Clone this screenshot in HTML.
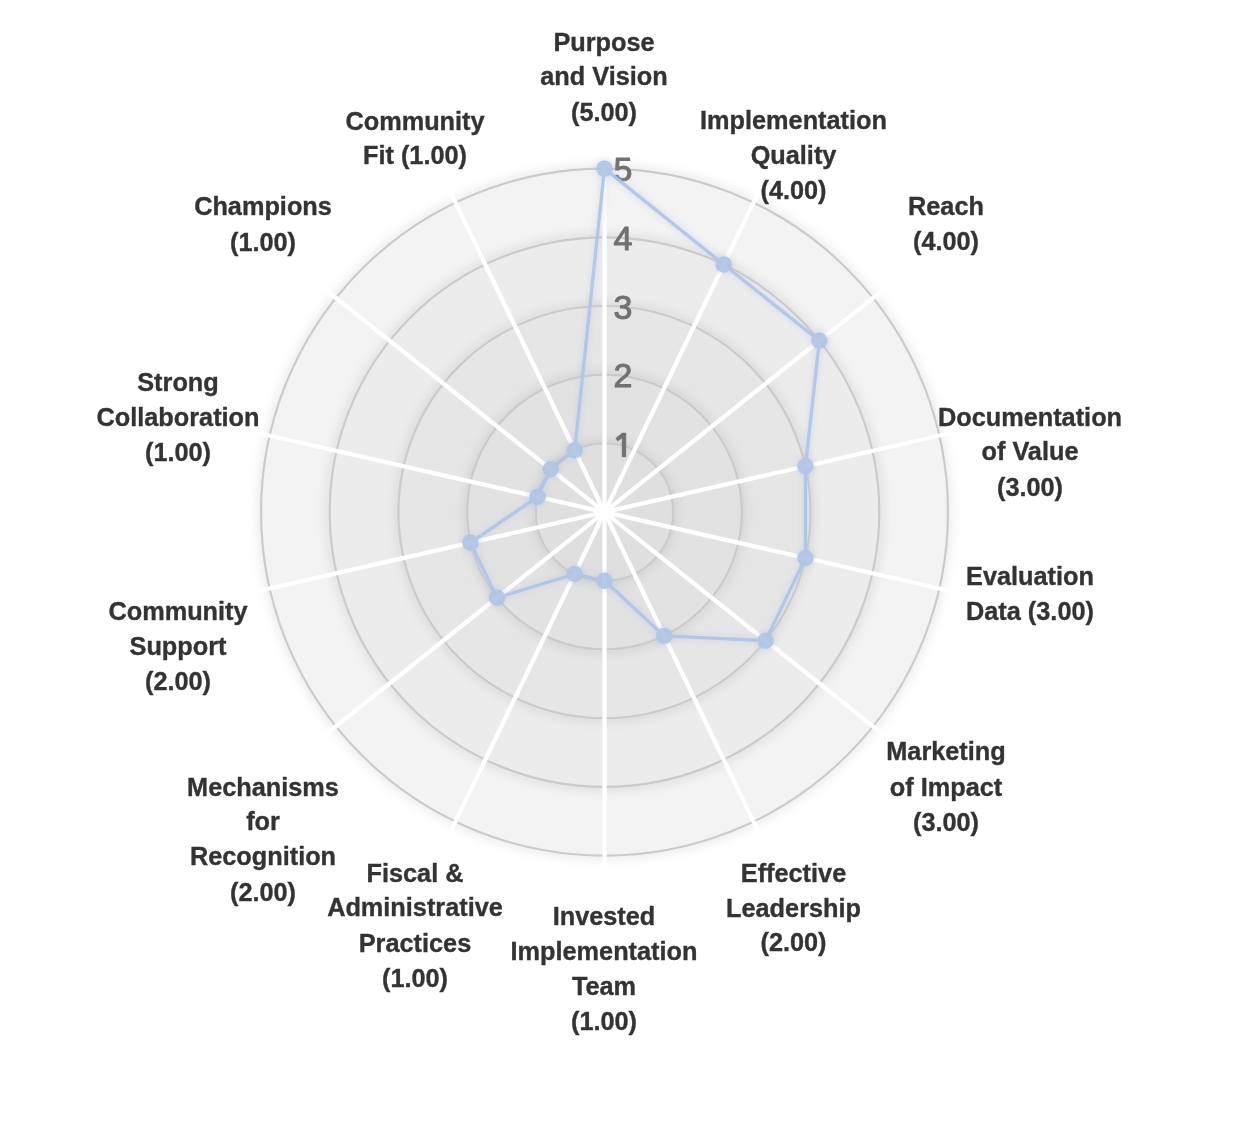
<!DOCTYPE html>
<html><head><meta charset="utf-8"><style>
html,body{margin:0;padding:0;background:#fff;width:1234px;height:1124px;overflow:hidden}
svg{display:block;filter:blur(0.35px)}
.lb{font-family:"Liberation Sans",sans-serif;font-weight:bold;font-size:25.3px;fill:#333;stroke:#333;stroke-width:0.35px;text-anchor:middle}
.tk{font-family:"Liberation Sans",sans-serif;font-size:34px;fill:#717171;stroke:#717171;stroke-width:1px;stroke-linejoin:round;text-anchor:middle}
</style></head><body>
<svg width="1234" height="1124" viewBox="0 0 1234 1124">
<defs>
<filter id="sh" x="-20%" y="-20%" width="140%" height="140%">
<feGaussianBlur in="SourceAlpha" stdDeviation="7"/>
<feComponentTransfer><feFuncA type="linear" slope="0.12"/></feComponentTransfer>
<feMerge><feMergeNode/><feMergeNode in="SourceGraphic"/></feMerge>
</filter>
<filter id="gl" x="-20%" y="-20%" width="140%" height="140%">
<feGaussianBlur in="SourceGraphic" stdDeviation="3.5"/>
<feComponentTransfer><feFuncA type="linear" slope="0.7"/></feComponentTransfer>
<feMerge><feMergeNode/><feMergeNode in="SourceGraphic"/></feMerge>
</filter>
</defs>

<circle cx="604.5" cy="512.1" r="343.50" fill="#f3f3f3" stroke="#cbcbcb" stroke-width="2.2" filter="url(#sh)"/>
<circle cx="604.5" cy="512.1" r="274.80" fill="#ececec" stroke="#cbcbcb" stroke-width="2.2" filter="url(#sh)"/>
<circle cx="604.5" cy="512.1" r="206.10" fill="#e6e6e6" stroke="#cbcbcb" stroke-width="2.2" filter="url(#sh)"/>
<circle cx="604.5" cy="512.1" r="137.40" fill="#e2e2e2" stroke="#cbcbcb" stroke-width="2.2" filter="url(#sh)"/>
<circle cx="604.5" cy="512.1" r="68.70" fill="#dfdfdf" stroke="#cbcbcb" stroke-width="2.2" filter="url(#sh)"/>
<line x1="604.5" y1="512.1" x2="604.50" y2="146.60" stroke="#fff" stroke-width="4.3"/>
<line x1="604.5" y1="512.1" x2="763.08" y2="182.80" stroke="#fff" stroke-width="4.3"/>
<line x1="604.5" y1="512.1" x2="890.26" y2="284.21" stroke="#fff" stroke-width="4.3"/>
<line x1="604.5" y1="512.1" x2="960.84" y2="430.77" stroke="#fff" stroke-width="4.3"/>
<line x1="604.5" y1="512.1" x2="960.84" y2="593.43" stroke="#fff" stroke-width="4.3"/>
<line x1="604.5" y1="512.1" x2="890.26" y2="739.99" stroke="#fff" stroke-width="4.3"/>
<line x1="604.5" y1="512.1" x2="763.08" y2="841.40" stroke="#fff" stroke-width="4.3"/>
<line x1="604.5" y1="512.1" x2="604.50" y2="877.60" stroke="#fff" stroke-width="4.3"/>
<line x1="604.5" y1="512.1" x2="445.92" y2="841.40" stroke="#fff" stroke-width="4.3"/>
<line x1="604.5" y1="512.1" x2="318.74" y2="739.99" stroke="#fff" stroke-width="4.3"/>
<line x1="604.5" y1="512.1" x2="248.16" y2="593.43" stroke="#fff" stroke-width="4.3"/>
<line x1="604.5" y1="512.1" x2="248.16" y2="430.77" stroke="#fff" stroke-width="4.3"/>
<line x1="604.5" y1="512.1" x2="318.74" y2="284.21" stroke="#fff" stroke-width="4.3"/>
<line x1="604.5" y1="512.1" x2="445.92" y2="182.80" stroke="#fff" stroke-width="4.3"/>
<text class="tk" x="623" y="387.2">2</text>
<text class="tk" x="623" y="318.5">3</text>
<text class="tk" x="623" y="249.8">4</text>
<text class="tk" x="623" y="181.1">5</text>
<path d="M622.1,433 L625.9,433 L625.9,456.9 L622.1,456.9 L622.1,438 L617.6,441 L615.8,438.2 Z" fill="#717171" stroke="#717171" stroke-width="0.5" stroke-linejoin="round"/>
<g filter="url(#gl)" opacity="0.92"><polygon points="604.50,168.60 723.73,264.51 819.35,340.77 805.43,466.24 805.43,557.96 765.64,640.60 664.12,635.89 604.50,580.80 574.69,574.00 497.08,597.77 470.54,542.67 537.52,496.81 550.79,469.27 574.69,450.20" fill="none" stroke="#b0c4e5" stroke-width="3.3" stroke-linejoin="round"/>
<circle cx="604.50" cy="168.60" r="8.2" fill="#b0c4e5"/>
<circle cx="723.73" cy="264.51" r="8.2" fill="#b0c4e5"/>
<circle cx="819.35" cy="340.77" r="8.2" fill="#b0c4e5"/>
<circle cx="805.43" cy="466.24" r="8.2" fill="#b0c4e5"/>
<circle cx="805.43" cy="557.96" r="8.2" fill="#b0c4e5"/>
<circle cx="765.64" cy="640.60" r="8.2" fill="#b0c4e5"/>
<circle cx="664.12" cy="635.89" r="8.2" fill="#b0c4e5"/>
<circle cx="604.50" cy="580.80" r="8.2" fill="#b0c4e5"/>
<circle cx="574.69" cy="574.00" r="8.2" fill="#b0c4e5"/>
<circle cx="497.08" cy="597.77" r="8.2" fill="#b0c4e5"/>
<circle cx="470.54" cy="542.67" r="8.2" fill="#b0c4e5"/>
<circle cx="537.52" cy="496.81" r="8.2" fill="#b0c4e5"/>
<circle cx="550.79" cy="469.27" r="8.2" fill="#b0c4e5"/>
<circle cx="574.69" cy="450.20" r="8.2" fill="#b0c4e5"/>
</g>
<text class="lb" x="604" y="50.6">Purpose</text>
<text class="lb" x="604" y="85.2">and Vision</text>
<text class="lb" x="604" y="121.1">(5.00)</text>
<text class="lb" x="793.5" y="129.4">Implementation</text>
<text class="lb" x="793.5" y="164.1">Quality</text>
<text class="lb" x="793.5" y="199.2">(4.00)</text>
<text class="lb" x="946" y="214.5">Reach</text>
<text class="lb" x="946" y="250.1">(4.00)</text>
<text class="lb" x="1030" y="425.5">Documentation</text>
<text class="lb" x="1030" y="460.1">of Value</text>
<text class="lb" x="1030" y="495.5">(3.00)</text>
<text class="lb" x="1030" y="584.6">Evaluation</text>
<text class="lb" x="1030" y="620.2">Data (3.00)</text>
<text class="lb" x="946" y="759.7">Marketing</text>
<text class="lb" x="946" y="795.8">of Impact</text>
<text class="lb" x="946" y="830.5">(3.00)</text>
<text class="lb" x="793.5" y="881.7">Effective</text>
<text class="lb" x="793.5" y="916.5">Leadership</text>
<text class="lb" x="793.5" y="951.3">(2.00)</text>
<text class="lb" x="604" y="924.7">Invested</text>
<text class="lb" x="604" y="959.6">Implementation</text>
<text class="lb" x="604" y="995.4">Team</text>
<text class="lb" x="604" y="1030.2">(1.00)</text>
<text class="lb" x="415" y="881.6">Fiscal &amp;</text>
<text class="lb" x="415" y="916.2">Administrative</text>
<text class="lb" x="415" y="951.6">Practices</text>
<text class="lb" x="415" y="987.1">(1.00)</text>
<text class="lb" x="263" y="795.6">Mechanisms</text>
<text class="lb" x="263" y="830.3">for</text>
<text class="lb" x="263" y="865.1">Recognition</text>
<text class="lb" x="263" y="900.5">(2.00)</text>
<text class="lb" x="178" y="620.4">Community</text>
<text class="lb" x="178" y="655.3">Support</text>
<text class="lb" x="178" y="690.3">(2.00)</text>
<text class="lb" x="178" y="390.5">Strong</text>
<text class="lb" x="178" y="425.5">Collaboration</text>
<text class="lb" x="178" y="460.6">(1.00)</text>
<text class="lb" x="263" y="214.5">Champions</text>
<text class="lb" x="263" y="250.6">(1.00)</text>
<text class="lb" x="415" y="129.6">Community</text>
<text class="lb" x="415" y="164.3">Fit (1.00)</text>
</svg></body></html>
